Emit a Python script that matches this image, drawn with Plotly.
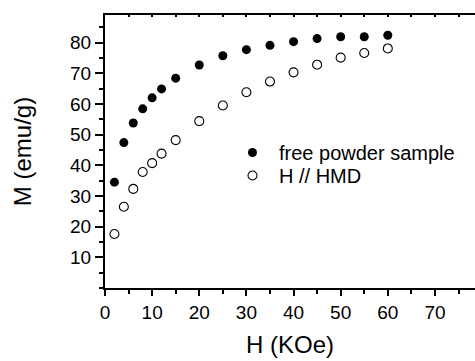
import plotly.graph_objects as go

# Data
H = [2, 4, 6, 8, 10, 12, 15, 20, 25, 30, 35, 40, 45, 50, 55, 60]
M_powder = [34.5, 47.4, 53.8, 58.4, 62.0, 64.9, 68.4, 72.7, 75.7, 77.7, 79.1, 80.3, 81.3, 81.9, 81.9, 82.4]
M_hmd = [17.6, 26.5, 32.3, 37.8, 40.7, 43.8, 48.2, 54.4, 59.5, 63.8, 67.3, 70.3, 72.8, 75.1, 76.6, 78.1]

x_ticks = [0, 10, 20, 30, 40, 50, 60, 70]
y_ticks = [10, 20, 30, 40, 50, 60, 70, 80]
x_range = [0, 78.5]
y_range = [0, 89]

FONT = "Liberation Sans, Arial, Helvetica, sans-serif"

fig = go.Figure()
fig.add_trace(go.Scatter(
    x=H, y=M_powder, mode="markers", name="free powder sample", legend="legend",
    marker=dict(symbol="circle", size=9, color="black", line=dict(width=0))
))
fig.add_trace(go.Scatter(
    x=H, y=M_hmd, mode="markers", name="H // HMD", legend="legend2",
    marker=dict(symbol="circle-open", size=9, color="black", line=dict(width=1.1, color="black"))
))
# invisible trace so the top (frame) axis is drawn
fig.add_trace(go.Scatter(
    x=H, y=M_powder, xaxis="x2", yaxis="y", mode="markers", showlegend=False,
    marker=dict(opacity=0), hoverinfo="skip"
))

legend_common = dict(
    xanchor="left", yanchor="middle",
    bgcolor="rgba(0,0,0,0)", borderwidth=0, font=dict(size=20, family=FONT),
    itemwidth=43,
)

fig.update_layout(
    width=475, height=361,
    margin=dict(l=105, r=0, t=15, b=73),
    paper_bgcolor="white", plot_bgcolor="white",
    font=dict(family=FONT, color="black", size=19),
    showlegend=True,
    legend=dict(x=(226 - 105) / 370, y=(288 - 152.5) / 273, **legend_common),
    legend2=dict(x=(226 - 105) / 370, y=(288 - 175.5) / 273, **legend_common),
    xaxis=dict(
        range=x_range, tickvals=x_ticks, ticktext=[str(v) for v in x_ticks],
        showgrid=False, zeroline=False, showline=True, linecolor="black", linewidth=2,
        ticks="outside", ticklen=6, tickwidth=1.5, tickcolor="black",
        minor=dict(dtick=5, ticks="outside", ticklen=4, tickwidth=1.5, tickcolor="black", showgrid=False),
        tickfont=dict(size=19),
        title=dict(text="H (KOe)", font=dict(size=24), standoff=14),
    ),
    xaxis2=dict(
        range=x_range, overlaying="x", side="top", anchor="y",
        showgrid=False, zeroline=False, showline=True, linecolor="black", linewidth=2,
        ticks="inside", ticklen=2, tickwidth=1.5, tickcolor="black", dtick=5, tick0=0,
        showticklabels=False,
    ),
    yaxis=dict(
        range=y_range, tickvals=y_ticks, ticktext=[str(v) for v in y_ticks],
        showgrid=False, zeroline=False, showline=True, linecolor="black", linewidth=2,
        ticks="outside", ticklen=8, tickwidth=1.5, tickcolor="black",
        minor=dict(dtick=5, tick0=0, ticks="outside", ticklen=4, tickwidth=1.5, tickcolor="black", showgrid=False),
        tickfont=dict(size=19),
        title=dict(text="M (emu/g)", font=dict(size=24), standoff=32),
    ),
)

fig.write_html("out.html")
